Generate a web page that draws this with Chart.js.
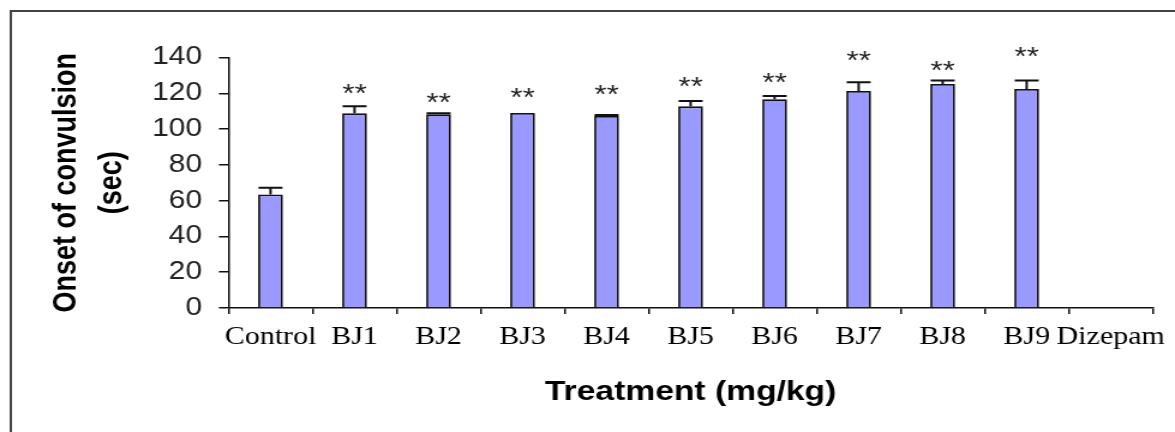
<!DOCTYPE html>
<html>
<head>
<meta charset="utf-8">
<script src="https://cdn.jsdelivr.net/npm/chart.js@4/dist/chart.umd.min.js"></script>
<style>
  html, body { margin: 0; padding: 0; background: #fff; overflow: hidden; }
  #wrap { width: 979px; height: 432px; transform: scaleX(1.2002); transform-origin: 0 0; }
</style>
</head>
<body>
<div id="wrap"><canvas id="chart" width="979" height="432"></canvas></div>
<script>
const categories = ["Control", "BJ1", "BJ2", "BJ3", "BJ4", "BJ5", "BJ6", "BJ7", "BJ8", "BJ9", "Dizepam"];
const onsetMeans = [63.5, 108.8, 108.3, 109, 107.3, 112.7, 116.7, 121.3, 125.2, 122.4, null];
const onsetSem = [3.7, 3.9, 0.5, 0, 0.5, 3, 1.8, 4.9, 2, 4.7, null];
const starLabels = ["", "**", "**", "**", "**", "**", "**", "**", "**", "**", ""];
const starLevel = [null, 122, 117, 119.5, 121.5, 126, 128, 140.5, 135, 142.5, null];
const yTicks = [0, 20, 40, 60, 80, 100, 120, 140];

const frame = {
  id: "frame",
  beforeDraw: (chart) => {
    const { ctx } = chart;
    ctx.save();
    ctx.fillStyle = "#ffffff";
    ctx.fillRect(0, 0, chart.width, chart.height);
    ctx.strokeStyle = "#444444";
    ctx.lineWidth = 2;
    ctx.beginPath();
    ctx.moveTo(9, chart.height + 2);
    ctx.lineTo(9, 11);
    ctx.lineTo(chart.width + 2, 11);
    ctx.stroke();
    ctx.restore();
  },
};

const errorBars = {
  id: "errorBars",
  afterDatasetsDraw: (chart) => {
    const { ctx } = chart;
    const y = chart.scales.y;
    const meta = chart.getDatasetMeta(0);
    ctx.save();
    ctx.strokeStyle = "#111111";
    ctx.lineWidth = 2;
    meta.data.forEach((bar, i) => {
      if (onsetMeans[i] == null || !onsetSem[i]) return;
      const top = y.getPixelForValue(onsetMeans[i] + onsetSem[i]);
      const base = y.getPixelForValue(onsetMeans[i]);
      ctx.beginPath();
      ctx.moveTo(bar.x, base);
      ctx.lineTo(bar.x, top);
      ctx.moveTo(bar.x - 10, top);
      ctx.lineTo(bar.x + 10, top);
      ctx.stroke();
    });
    // significance marks
    ctx.fillStyle = "#222222";
    ctx.font = "26px 'Liberation Sans', Arial, sans-serif";
    ctx.textAlign = "center";
    ctx.textBaseline = "middle";
    meta.data.forEach((bar, i) => {
      if (starLevel[i] == null) return;
      ctx.fillText(starLabels[i], bar.x, y.getPixelForValue(starLevel[i]) + 5);
    });
    ctx.restore();
  },
};

Chart.defaults.font.family = "'Liberation Sans', Arial, sans-serif";
Chart.defaults.color = "#000000";

new Chart(document.getElementById("chart").getContext("2d"), {
  type: "bar",
  data: {
    labels: categories,
    datasets: [
      {
        label: "Onset of convulsion",
        data: onsetMeans,
        backgroundColor: "#9999ff",
        borderColor: "#111111",
        borderWidth: 1.8,
        barPercentage: 0.295,
        categoryPercentage: 1,
      },
    ],
  },
  options: {
    responsive: false,
    animation: false,
    layout: { padding: { left: 0, right: 10, top: 57.5, bottom: 0 } },
    plugins: {
      legend: { display: false },
      tooltip: { enabled: false },
    },
    scales: {
      x: {
        offset: true,
        grid: { offset: true, drawOnChartArea: false, drawTicks: true, tickLength: 6, color: "#111111", lineWidth: 1.5 },
        border: { display: true, color: "#111111", width: 1.5 },
        ticks: {
          autoSkip: false,
          maxRotation: 0,
          minRotation: 0,
          padding: 8,
          color: "#000000",
          font: { family: "'Liberation Serif', 'Times New Roman', serif", size: 25 },
        },
        title: {
          display: true,
          text: "Treatment (mg/kg)",
          color: "#000000",
          font: { size: 28, weight: "bold" },
          padding: { top: 0, bottom: 23 },
        },
        afterFit: (scale) => {
          scale.height = 124;
        },
      },
      y: {
        min: 0,
        max: 140,
        afterBuildTicks: (scale) => {
          scale.ticks = yTicks.map((v) => ({ value: v }));
        },
        grid: { drawOnChartArea: false, drawTicks: true, tickLength: 8, color: "#111111", lineWidth: 1.5 },
        border: { display: true, color: "#111111", width: 1.5 },
        ticks: {
          padding: 14,
          color: "#222222",
          font: { size: 25 },
        },
        title: {
          display: true,
          text: ["Onset of convulsion", "(sec)"],
          color: "#000000",
          font: { size: 27, weight: "bold", lineHeight: 1.4 },
          padding: { top: 37, bottom: 0 },
        },
        afterFit: (scale) => {
          scale.width = 190.4;
        },
      },
    },
  },
  plugins: [frame, errorBars],
});
</script>
</body>
</html>
